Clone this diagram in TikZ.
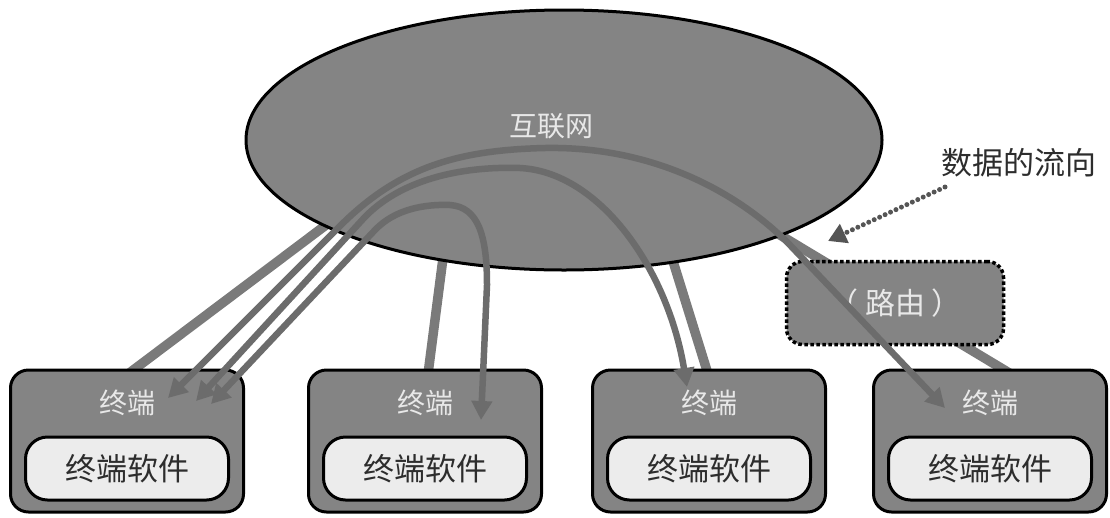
\documentclass[tikz,border=0pt]{standalone}
\usepackage{fontspec}
\newfontfamily\cjk{Noto Sans CJK SC}
\usetikzlibrary{arrows.meta,shapes.geometric}
\definecolor{bggray}{RGB}{132,132,132}
\definecolor{arrgray}{RGB}{108,108,108}
\definecolor{lnkgray}{RGB}{122,122,122}
\definecolor{lightfill}{RGB}{236,236,236}
\definecolor{lighttext}{RGB}{232,232,232}
\definecolor{darktext}{RGB}{45,45,45}
\definecolor{dotgray}{RGB}{85,85,85}
\begin{document}
\begin{tikzpicture}[x=1pt,y=-1pt,
  termbox/.style={draw=black, line width=3pt, fill=bggray, rounded corners=18pt,
    minimum width=233pt, minimum height=142pt, inner sep=0pt},
  softbox/.style={draw=black, line width=3pt, fill=lightfill, rounded corners=22pt,
    minimum width=203pt, minimum height=63pt, inner sep=0pt,
    font=\cjk\fontsize{31}{33}\selectfont, text=darktext},
  termlabel/.style={font=\cjk\fontsize{28}{30}\selectfont, text=lighttext, inner sep=0pt},
  link/.style={draw=lnkgray, line width=9.5pt},
  flow/.style={draw=arrgray, line width=6.5pt,
    {Triangle[length=19pt,width=20pt]}-{Triangle[length=19pt,width=20pt]}},
  routerbox/.style={draw=black, line width=3.5pt, dash pattern=on 3.5pt off 2.5pt,
    fill=bggray, rounded corners=16pt, minimum width=217pt, minimum height=83pt,
    inner sep=0pt, text=lighttext, font=\cjk\fontsize{30}{32}\selectfont},
  dotflow/.style={draw=dotgray, line width=5pt, line cap=round,
    dash pattern=on 0pt off 6pt, -{Triangle[length=18pt,width=20pt]}}
]
\useasboundingbox (0,0) rectangle (1110,517);

% link end points
\coordinate (l1s) at (330,222);
\coordinate (l1e) at (128,374);
\coordinate (l2s) at (443,258);
\coordinate (l2e) at (428,374);
\coordinate (l3s) at (672,258);
\coordinate (l3e) at (708,374);
\coordinate (l4s) at (775,232);
\coordinate (l4e) at (1011,374);

% links (under the cloud and the boxes)
\draw[link] (l1s) -- (l1e);
\draw[link] (l2s) -- (l2e);
\draw[link] (l3s) -- (l3e);
\draw[link] (l4s) -- (l4e);

% internet
\node[ellipse, draw=black, line width=3pt, fill=bggray, minimum width=636pt,
  minimum height=260pt, inner sep=0pt] (net) at (564,140) {};
\node[termlabel] (netlabel) at (551,126) {互联网};

% terminals
\foreach \i/\cx in {1/127, 2/425, 3/709, 4/990} {
  \node[termbox] (t\i) at (\cx,441) {};
  \node[termlabel] (tl\i) at (\cx,403) {终端};
  \node[softbox] (s\i) at (\cx,468.5) {终端软件};
}

% router
\node[routerbox] (router) at (895,303) {（ 路由 ）};

% flow arrows
\coordinate (a1) at (168,398);
\coordinate (a2) at (340,226);
\coordinate (a3) at (545,148);
\coordinate (a4) at (788,243);
\coordinate (a5) at (945,408);
\draw[flow] (a1) -- (a2) .. controls (400,166) and (460,150) .. (a3)
  .. controls (650,146) and (735,190) .. (a4) -- (a5);

\coordinate (b1) at (196,401);
\coordinate (b2) at (364,218);
\coordinate (b3) at (520,168);
\coordinate (b4) at (687,387);
\draw[flow] (b1) -- (b2) .. controls (400,180) and (460,166) .. (b3)
  .. controls (600,172) and (668,270) .. (b4);

\coordinate (c1) at (211,404);
\coordinate (c2) at (375,230);
\coordinate (c3) at (450,205);
\coordinate (c4) at (487,285);
\coordinate (c5) at (481,420);
\draw[flow] (c1) -- (c2) .. controls (395,209) and (425,204) .. (c3)
  .. controls (478,207) and (487,235) .. (c4) -- (c5);

% label of the data flow
\node[font=\cjk\fontsize{31}{33}\selectfont, text=darktext, inner sep=0pt]
  (flowtxt) at (1019,163) {数据的流向};
\coordinate (dstart) at (945,187);
\coordinate (dtip) at (828,241);
\draw[dotflow] (dstart) -- (dtip);
\end{tikzpicture}
\end{document}
